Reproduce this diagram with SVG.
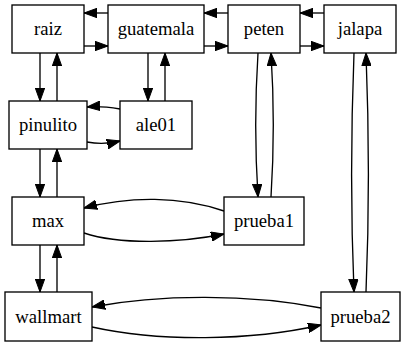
<svg xmlns="http://www.w3.org/2000/svg" width="406" height="347" viewBox="0 0 406 347">
  <style>
    .node rect { fill: #ffffff; stroke: #000000; stroke-width: 1.33; }
    .node text { font-family: "Liberation Serif", "Times New Roman", serif; font-size: 18.67px; text-anchor: middle; fill: #000000; }
    .edges path { fill: none; stroke: #000000; stroke-width: 1.33; marker-end: url(#arrow); }
  </style>
  <defs>
    <marker id="arrow" viewBox="0 0 13 10" refX="13" refY="5" markerWidth="13" markerHeight="10" markerUnits="userSpaceOnUse" orient="auto">
      <path d="M0,0.3 L13,5 L0,9.7 z" fill="#000000" stroke="#000000" stroke-width="1"/>
    </marker>
  </defs>
  <rect width="406" height="347" fill="#ffffff"/>

  <g class="edges">
    <path d="M108,13 L84,13"/>
    <path d="M84,46 L108,46"/>
    <path d="M228,13 L204,13"/>
    <path d="M204,46 L228,46"/>
    <path d="M324,13 L300,13"/>
    <path d="M300,46 L324,46"/>
    <path d="M40,53 L40,101"/>
    <path d="M57,101 L57,53"/>
    <path d="M148,53 L148,101"/>
    <path d="M165,101 L165,53"/>
    <path d="M120,109 C108,107 98,106 87,107"/>
    <path d="M87,142 C98,144 108,144 120,141"/>
    <path d="M40,149 L40,197"/>
    <path d="M57,197 L57,149"/>
    <path d="M258,53 C255,100 255,150 258,197"/>
    <path d="M271,197 C274,150 274,100 271,53"/>
    <path d="M354,53 C351,130 351,220 354,292"/>
    <path d="M366,292 C369,220 369,130 366,53"/>
    <path d="M84,233 C120,245 180,243 224,234"/>
    <path d="M224,211 C180,196 130,196 84,208"/>
    <path d="M40,245 L40,292"/>
    <path d="M57,292 L57,245"/>
    <path d="M321,308 C250,294 160,294 92,307"/>
    <path d="M92,327 C160,342 250,341 321,325"/>
  </g>

  <g id="raiz" class="node"><rect x="12" y="5" width="72" height="48"/><text x="48" y="35">raiz</text></g>
  <g id="guatemala" class="node"><rect x="108" y="5" width="96" height="48"/><text x="156" y="35">guatemala</text></g>
  <g id="peten" class="node"><rect x="228" y="5" width="72" height="48"/><text x="264" y="35">peten</text></g>
  <g id="jalapa" class="node"><rect x="324" y="5" width="72" height="48"/><text x="360" y="35">jalapa</text></g>
  <g id="pinulito" class="node"><rect x="9" y="101" width="78" height="48"/><text x="48" y="131">pinulito</text></g>
  <g id="ale01" class="node"><rect x="120" y="101" width="72" height="48"/><text x="156" y="131">ale01</text></g>
  <g id="max" class="node"><rect x="12" y="197" width="72" height="48"/><text x="48" y="227">max</text></g>
  <g id="prueba1" class="node"><rect x="224" y="197" width="80" height="48"/><text x="264" y="227">prueba1</text></g>
  <g id="wallmart" class="node"><rect x="5" y="292" width="87" height="49"/><text x="48.5" y="322.5">wallmart</text></g>
  <g id="prueba2" class="node"><rect x="321" y="292" width="79" height="49"/><text x="360.5" y="322.5">prueba2</text></g>
</svg>
